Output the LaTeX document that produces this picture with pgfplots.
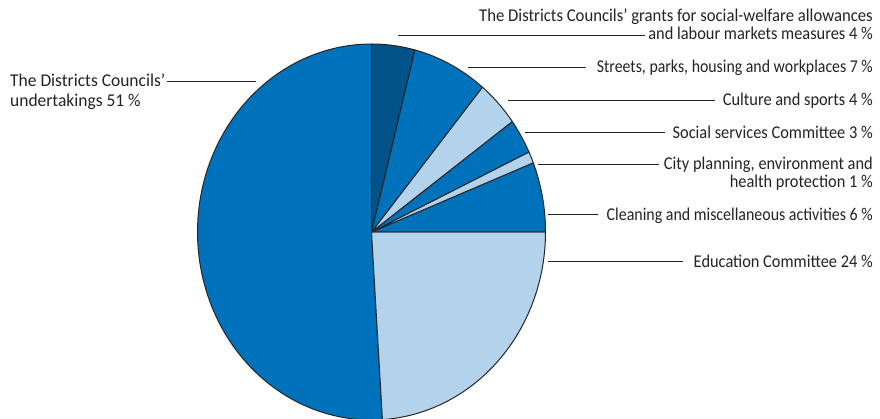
\documentclass[border=0pt]{standalone}
\usepackage{pgfplots}
\pgfplotsset{compat=1.18}
\usepackage{fontspec}
\setmainfont{Carlito}
\definecolor{pmed}{RGB}{0,114,187}
\definecolor{pdark}{RGB}{0,82,136}
\definecolor{plight}{RGB}{179,211,236}
\definecolor{ink}{RGB}{35,35,35}
% slice: start percent, end percent, colour (angles measured from top, counter-clockwise)
\newcommand{\slice}[3]{%
  \addplot[draw=black!85, line width=1pt, fill=#3, line join=round,
    domain={90+3.6*#1}:{90+3.6*#2}, samples=80, variable=\t]
    ({371.5+174*cos(\t)},{186+188*sin(\t)}) -- (371.5,186) -- cycle;
}
\newcommand{\leader}[3]{% x1, x2, pixel y
  \addplot[ink, line width=1.2pt] coordinates {(#1,{418-#3}) (#2,{418-#3})};
}
\newcommand{\lblR}[3][0.91]{% [hscale] pixel baseline y, text
  \node[anchor=base east, inner sep=0pt, text=ink, font=\fontsize{18}{20}\selectfont] at (873,{418-#2}) {\scalebox{#1}[1]{#3}};
}
\begin{document}
\begin{tikzpicture}
\useasboundingbox (0,0) rectangle (880pt,418pt);
\begin{axis}[hide axis, scale only axis, width=880pt, height=418pt,
  xmin=0, xmax=880, ymin=0, ymax=418, clip=true]
% percentages: Districts 51, Education 24, Cleaning 6, City planning 1,
% Social 3, Culture 4, Streets 7, Grants 4
\slice{0}{51}{pmed}
\slice{51}{75}{plight}
\slice{75}{81}{pmed}
\slice{81}{82}{plight}
\slice{82}{85}{pmed}
\slice{85}{89}{plight}
\slice{89}{96}{pmed}
\slice{96}{100}{pdark}
\leader{398}{645}{35.5}
\leader{468}{586}{67.5}
\leader{508}{715}{100.5}
\leader{525}{665}{132.5}
\leader{538}{659}{164.5}
\leader{548}{598}{214.5}
\leader{548}{683}{261.5}
\leader{167}{256}{81.5}
\lblR[0.928]{21.5}{The Districts Councils' grants for social-welfare allowances}
\lblR{39.5}{and labour markets measures 4 \%}
\lblR[0.88]{73}{Streets, parks, housing and workplaces 7 \%}
\lblR{106}{Culture and sports 4 \%}
\lblR{138.5}{Social services Committee 3 \%}
\lblR{169.5}{City planning, environment and}
\lblR{188}{health protection 1 \%}
\lblR[0.885]{221}{Cleaning and miscellaneous activities 6 \%}
\lblR{267}{Education Committee 24 \%}
\node[anchor=base west, inner sep=0pt, text=ink, font=\fontsize{18}{20}\selectfont] at (10,{418-86.5}) {\scalebox{0.97}[1]{The Districts Councils'}};
\node[anchor=base west, inner sep=0pt, text=ink, font=\fontsize{18}{20}\selectfont] at (10,{418-107}) {\scalebox{0.97}[1]{undertakings 51 \%}};
\end{axis}
\end{tikzpicture}
\end{document}
